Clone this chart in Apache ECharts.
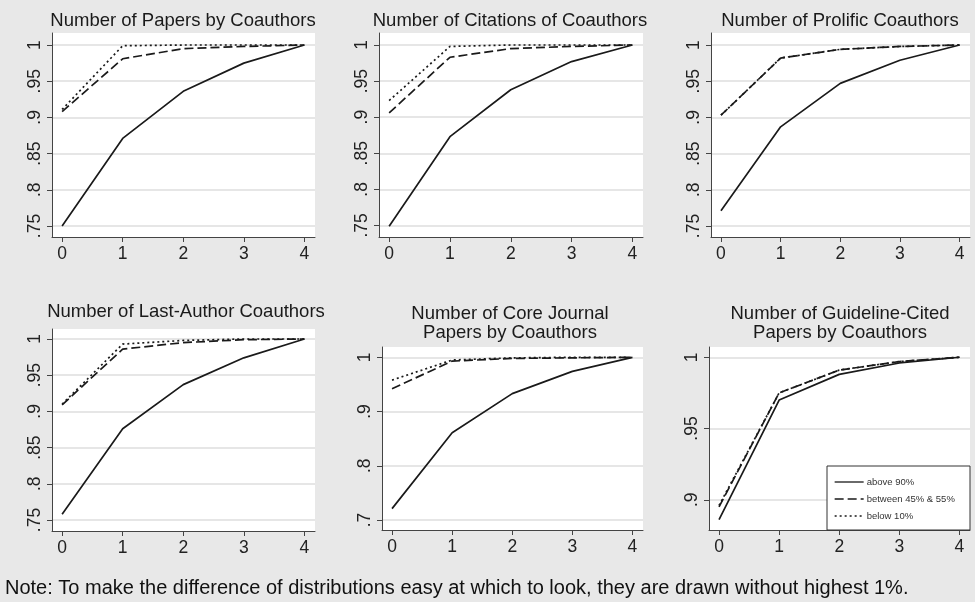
<!DOCTYPE html>
<html>
<head>
<meta charset="utf-8">
<script src="https://cdn.jsdelivr.net/npm/echarts@6/dist/echarts.min.js"></script>
<style>
html,body{margin:0;padding:0;background:#e8e8e8;}
#chart{width:975px;height:602px;}
</style>
</head>
<body>
<div id="chart"></div>
<script>
// ---------- data ----------
const xValues = [0, 1, 2, 3, 4];
const xTicks = [0, 1, 2, 3, 4];
const yTicksFine = [0.75, 0.8, 0.85, 0.9, 0.95, 1];
const yTicksCore = [0.7, 0.8, 0.9, 1];
const yTicksGuide = [0.9, 0.95, 1];
const seriesNames = ['above 90%', 'between 45% & 55%', 'below 10%'];
const panelTitles = [
  'Number of Papers by Coauthors',
  'Number of Citations of Coauthors',
  'Number of Prolific Coauthors',
  'Number of Last-Author Coauthors',
  'Number of Core Journal\nPapers by Coauthors',
  'Number of Guideline-Cited\nPapers by Coauthors'
];
const noteText = 'Note: To make the difference of distributions easy at which to look, they are drawn without highest 1%.';

const papersAbove      = [0.750, 0.871, 0.936, 0.975, 1.000];
const papersBetween    = [0.908, 0.981, 0.995, 0.998, 1.000];
const papersBelow      = [0.911, 0.999, 1.000, 1.000, 1.000];
const citationsAbove   = [0.749, 0.873, 0.938, 0.977, 1.000];
const citationsBetween = [0.906, 0.983, 0.995, 0.998, 1.000];
const citationsBelow   = [0.923, 0.998, 1.000, 1.000, 1.000];
const prolificAbove    = [0.771, 0.887, 0.947, 0.979, 1.000];
const prolificBetween  = [0.903, 0.982, 0.994, 0.998, 1.000];
const prolificBelow    = [0.903, 0.982, 0.994, 0.998, 1.000];
const lastAuthAbove    = [0.758, 0.876, 0.937, 0.974, 1.000];
const lastAuthBetween  = [0.909, 0.986, 0.995, 0.999, 1.000];
const lastAuthBelow    = [0.910, 0.993, 0.998, 1.000, 1.000];
const coreAbove        = [0.721, 0.861, 0.933, 0.974, 1.000];
const coreBetween      = [0.942, 0.993, 0.998, 0.999, 1.000];
const coreBelow        = [0.958, 0.995, 0.999, 1.000, 1.000];
const guideAbove       = [0.886, 0.970, 0.988, 0.996, 1.000];
const guideBetween     = [0.895, 0.975, 0.991, 0.997, 1.000];
const guideBelow       = [0.896, 0.975, 0.991, 0.997, 1.000];

const panelData = [
  [papersAbove, papersBetween, papersBelow],
  [citationsAbove, citationsBetween, citationsBelow],
  [prolificAbove, prolificBetween, prolificBelow],
  [lastAuthAbove, lastAuthBetween, lastAuthBelow],
  [coreAbove, coreBetween, coreBelow],
  [guideAbove, guideBetween, guideBelow]
];
const panelYTicks = [yTicksFine, yTicksFine, yTicksFine, yTicksFine, yTicksCore, yTicksGuide];

// ---------- layout / style ----------
const FONT = '"Liberation Sans", Arial, Helvetica, sans-serif';
const layout = [
  {left: 52,  top: 33,  width: 263, height: 204, yMin: 0.7348, yMax: 1.0166, tx: 183, ty: 12},
  {left: 379, top: 33,  width: 264, height: 204, yMin: 0.7340, yMax: 1.0166, tx: 510, ty: 12},
  {left: 711, top: 33,  width: 259, height: 204, yMin: 0.7348, yMax: 1.0166, tx: 840, ty: 12},
  {left: 52,  top: 329, width: 263, height: 202, yMin: 0.7348, yMax: 1.0138, tx: 186, ty: 303},
  {left: 382, top: 347, width: 261, height: 183, yMin: 0.6816, yMax: 1.0190, tx: 510, ty: 305},
  {left: 709, top: 347, width: 261, height: 183, yMin: 0.8788, yMax: 1.0072, tx: 840, ty: 305}
];
const lineStyles = [
  {type: 'solid', width: 1.7},
  {type: [9, 4], width: 1.7},
  {type: [2, 3], width: 1.7}
];
const fmt = v => (v === 1 ? '1' : String(+v.toFixed(2)).replace(/^0/, ''));

const grids = [], xAxes = [], yAxes = [], series = [], titles = [];
layout.forEach((L, p) => {
  grids.push({left: L.left, top: L.top, width: L.width, height: L.height,
    show: true, backgroundColor: '#ffffff', borderWidth: 0});
  xAxes.push({
    type: 'value', gridIndex: p, min: -0.167, max: 4.175,
    axisLine: {show: true, onZero: false, lineStyle: {color: '#444', width: 1}},
    axisTick: {show: true, length: 5, lineStyle: {color: '#444'}, customValues: xTicks},
    axisLabel: {customValues: xTicks, fontSize: 17.5, fontFamily: FONT, color: '#222', margin: 8},
    splitLine: {show: false}
  });
  yAxes.push({
    type: 'value', gridIndex: p, min: L.yMin, max: L.yMax,
    axisLine: {show: true, onZero: false, lineStyle: {color: '#444', width: 1}},
    axisTick: {show: true, length: 5, lineStyle: {color: '#444'}, customValues: panelYTicks[p]},
    axisLabel: {customValues: panelYTicks[p], rotate: 90, fontSize: 17.5, fontFamily: FONT,
      color: '#222', margin: 8, formatter: fmt},
    splitLine: {show: true, lineStyle: {color: '#dedede', width: 1.5}}
  });
  titles.push({
    text: panelTitles[p], left: L.tx, top: L.ty, textAlign: 'center', padding: 0,
    textStyle: {fontSize: 18.5, fontWeight: 'normal', fontFamily: FONT, color: '#1a1a1a', lineHeight: 18.7}
  });
  panelData[p].forEach((arr, s) => {
    series.push({
      name: seriesNames[s], type: 'line', xAxisIndex: p, yAxisIndex: p,
      data: xValues.map((x, i) => [x, arr[i]]),
      symbol: 'none', showSymbol: false, smooth: false,
      lineStyle: Object.assign({color: '#1a1a1a'}, lineStyles[s]),
      itemStyle: {color: '#1a1a1a'},
      emphasis: {disabled: true}, z: 2
    });
  });
});

const chart = echarts.init(document.getElementById('chart'), null, {renderer: 'canvas'});
chart.setOption({
  animation: false,
  backgroundColor: '#e8e8e8',
  title: titles,
  grid: grids,
  xAxis: xAxes,
  yAxis: yAxes,
  series: series,
  legend: {
    data: seriesNames, orient: 'vertical', left: 834, top: 476, padding: 0,
    itemWidth: 29, itemHeight: 10, itemGap: 5, selectedMode: false, z: 6,
    itemStyle: {opacity: 0, borderWidth: 0},
    lineStyle: {width: 1.3},
    textStyle: {fontSize: 9.5, fontFamily: FONT, color: '#333', lineHeight: 12, padding: [0, 0, 0, -2]}
  },
  graphic: [
    {type: 'rect', z: 5, shape: {x: 827, y: 466, width: 143, height: 64},
      style: {fill: '#ffffff', stroke: '#333', lineWidth: 1}},
    {type: 'text', x: 5, y: 588, z: 5,
      style: {text: noteText, font: '20px ' + FONT, fill: '#111', textVerticalAlign: 'middle', textAlign: 'left'}}
  ]
});
</script>
</body>
</html>
